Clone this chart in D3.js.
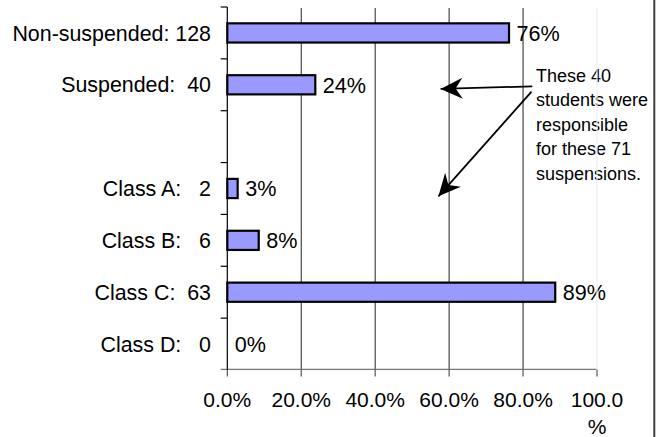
<!DOCTYPE html>
<html>
<head>
<meta charset="utf-8">
<script src="https://cdn.jsdelivr.net/npm/d3@7"></script>
<style>
  html, body { margin: 0; padding: 0; background: #fff; }
  svg { display: block; }
  text { font-family: "Liberation Sans", Arial, sans-serif; fill: #000; }
</style>
</head>
<body>
<svg id="chart" width="666" height="437"></svg>
<script>
// ---- data ----
const categories = ["Non-suspended", "Suspended", "gap", "Class A", "Class B", "Class C", "Class D"];
const categoryLabels = ["Non-suspended: 128", "Suspended:\u00A0\u00A040", "", "Class A:\u00A0\u00A0\u00A02", "Class B:\u00A0\u00A0\u00A06", "Class C:\u00A0\u00A063", "Class D:\u00A0\u00A0\u00A00"];
const counts = [128, 40, null, 2, 6, 63, 0];
const percents = [76.2, 23.8, null, 2.8, 8.5, 88.7, 0];
const valueLabels = ["76%", "24%", "", "3%", "8%", "89%", "0%"];
const xTicks = [0, 20, 40, 60, 80, 100];
const xTickLabels = ["0.0%", "20.0%", "40.0%", "60.0%", "80.0%", "100.0|%"];
const noteLines = ["These 40", "students were", "responsible", "for these 71", "suspensions."];
// annotation arrows in data units: start (x %, category, band-step offset) -> tip
const arrows = [
  { from: [82.5, "Suspended", 0.03], to: [57.7, "Suspended", 0.08] },
  { from: [82.3, "Suspended", 0.13], to: [57.1, "Class A", 0.15] }
];

// ---- layout ----
const svg = d3.select("#chart");
const x = d3.scaleLinear().domain([0, 100]).range([227.3, 597]);
const y = d3.scaleBand().domain(categories).range([7, 370]).paddingInner(0.63).paddingOuter(0.315);
const step = y.step();
const y0 = 7, y1 = 370;

// right border
svg.append("line").attr("x1", 654.3).attr("x2", 654.3).attr("y1", 0).attr("y2", 437)
  .attr("stroke", "#404040").attr("stroke-width", 2);

// gridlines (20..80)
svg.append("g").selectAll("line").data(xTicks.filter(d => d > 0 && d < 100)).join("line")
  .attr("x1", d => x(d)).attr("x2", d => x(d))
  .attr("y1", y0 + 1).attr("y2", y1)
  .attr("stroke", "#222").attr("stroke-width", 1);

// x axis
const xAxis = svg.append("g");
xAxis.append("line").attr("x1", x(0) - 6.6).attr("x2", x(100)).attr("y1", 369.3).attr("y2", 369.3)
  .attr("stroke", "#777").attr("stroke-width", 1.3);
xAxis.selectAll("line.tick").data(xTicks).join("line").attr("class", "tick")
  .attr("x1", d => x(d)).attr("x2", d => x(d)).attr("y1", 369.3).attr("y2", 376.5)
  .attr("stroke", "#555").attr("stroke-width", 1.2);
const tl = xAxis.selectAll("text").data(xTicks).join("text")
  .attr("x", d => x(d)).attr("y", 406.5)
  .attr("text-anchor", "middle").style("font-size", "21px");
tl.each(function(d, i) {
  const parts = xTickLabels[i].split("|");
  const t = d3.select(this);
  parts.forEach((p, j) => {
    t.append("tspan").attr("x", x(d)).attr("dy", j === 0 ? 0 : 27.5).text(p);
  });
});

// bars
const rows = categories.map((c, i) => ({ c, label: categoryLabels[i], n: counts[i], p: percents[i], vl: valueLabels[i] }));
svg.append("g").selectAll("rect").data(rows.filter(r => r.p !== null && r.p > 0)).join("rect")
  .attr("x", x(0)).attr("y", r => y(r.c))
  .attr("width", r => x(r.p) - x(0)).attr("height", y.bandwidth())
  .attr("fill", "#9999FF").attr("stroke", "#000").attr("stroke-width", 2.2);

// y axis
const yAxis = svg.append("g");
yAxis.append("line").attr("x1", x(0)).attr("x2", x(0)).attr("y1", y0).attr("y2", y1)
  .attr("stroke", "#000").attr("stroke-width", 1.2);
yAxis.selectAll("line.tick").data(d3.range(categories.length)).join("line").attr("class", "tick")
  .attr("x1", x(0) - 6.6).attr("x2", x(0))
  .attr("y1", i => y0 + i * step).attr("y2", i => y0 + i * step)
  .attr("stroke", "#000").attr("stroke-width", 1.2);

// category labels
svg.append("g").selectAll("text").data(rows.filter(r => r.label)).join("text")
  .attr("x", 211).attr("y", r => y(r.c) + y.bandwidth() / 2).attr("dy", "0.36em")
  .attr("text-anchor", "end").style("font-size", "21.4px")
  .text(r => r.label);

// value labels
svg.append("g").selectAll("text").data(rows.filter(r => r.vl)).join("text")
  .attr("x", r => x(r.p) + 7.5).attr("y", r => y(r.c) + y.bandwidth() / 2).attr("dy", "0.36em")
  .style("font-size", "21.6px")
  .text(r => r.vl);

// annotation text
const note = svg.append("text").attr("x", 536).attr("y", 81.5).style("font-size", "18px");
noteLines.forEach((l, i) => note.append("tspan").attr("x", 536).attr("dy", i === 0 ? 0 : 24.5).text(l));

// 100% gridline (very light, drawn over text)
svg.append("line").attr("x1", x(100)).attr("x2", x(100)).attr("y1", y0 + 1).attr("y2", y1)
  .attr("stroke", "#eeeeee").attr("stroke-width", 1.2);

// arrows
const defs = svg.append("defs");
defs.append("marker").attr("id", "head").attr("markerUnits", "userSpaceOnUse")
  .attr("viewBox", "-23 -12 24 24").attr("refX", 0).attr("refY", 0)
  .attr("markerWidth", 24).attr("markerHeight", 24).attr("orient", "auto")
  .append("path").attr("d", "M0,0 L-22,-10.5 L-15,0 L-22,10.5 Z").attr("fill", "#000");
const pt = (a) => [x(a[0]), y(a[1]) + y.bandwidth() / 2 + a[2] * step];
svg.append("g").selectAll("line").data(arrows).join("line")
  .attr("x1", d => pt(d.from)[0]).attr("y1", d => pt(d.from)[1])
  .attr("x2", d => pt(d.to)[0]).attr("y2", d => pt(d.to)[1])
  .attr("stroke", "#000").attr("stroke-width", 1.8)
  .attr("marker-end", "url(#head)");
</script>
</body>
</html>
